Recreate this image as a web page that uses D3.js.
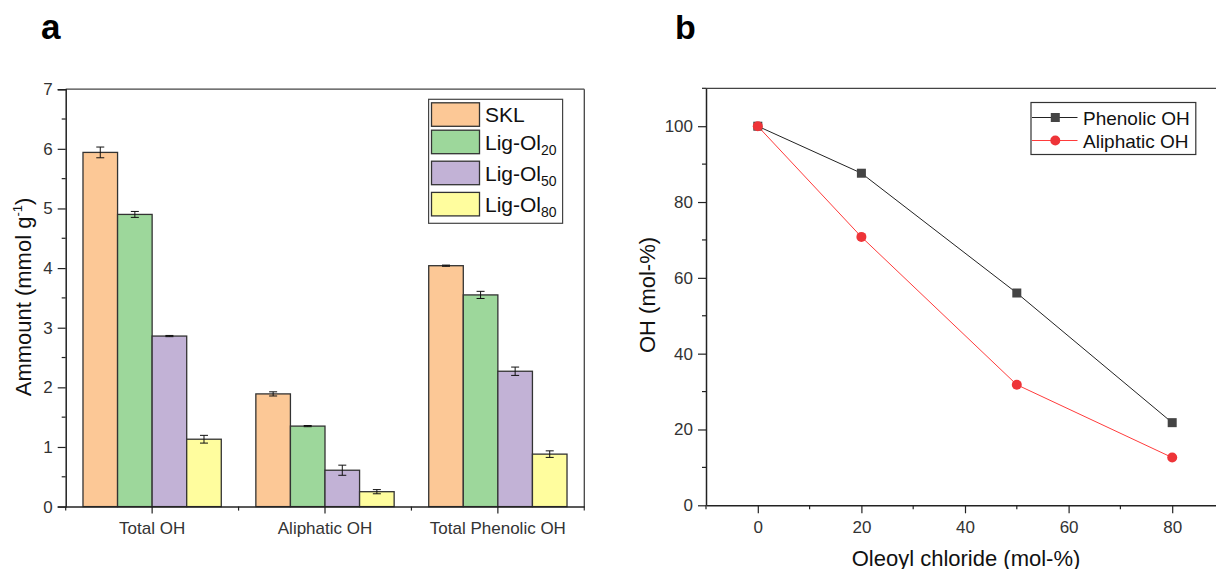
<!DOCTYPE html>
<html><head><meta charset="utf-8">
<script src="https://cdn.jsdelivr.net/npm/d3@7"></script>
<style>
body{margin:0;background:#fff;}
text{font-family:"Liberation Sans",Arial,sans-serif;}
</style></head>
<body><svg id="c" width="1216" height="569"></svg>
<script>
// ---- Panel a data ----
const categories = ["Total OH", "Aliphatic OH", "Total Phenolic OH"];
const seriesNames = ["SKL", "Lig-Ol20", "Lig-Ol50", "Lig-Ol80"];
const seriesBase = ["SKL", "Lig-Ol", "Lig-Ol", "Lig-Ol"];
const seriesSub = ["", "20", "50", "80"];
const skl = [5.94, 1.89, 4.04];
const ligOl20 = [4.90, 1.35, 3.55];
const ligOl50 = [2.86, 0.61, 2.27];
const ligOl80 = [1.13, 0.25, 0.88];
const sklErr = [0.09, 0.035, 0.01];
const ligOl20Err = [0.05, 0.01, 0.06];
const ligOl50Err = [0.01, 0.085, 0.07];
const ligOl80Err = [0.065, 0.035, 0.055];
const barColors = ["#FCC896", "#9DD79B", "#C2B2D6", "#FFFD9E"];
const yTicksA = [0, 1, 2, 3, 4, 5, 6, 7];

// ---- Panel b data ----
const oleoyl = [0, 20, 50, 80];
const phenolicOH = [100, 87.6, 56.0, 21.8];
const aliphaticOH = [100, 70.8, 31.8, 12.6];
const xTicksB = [0, 20, 40, 60, 80];
const yTicksB = [0, 20, 40, 60, 80, 100];

const svg = d3.select("#c");
const axisColor = "#222";
const tickTextColor = "#333";

// ================= Panel a =================
const aL = 65.7, aR = 584.3, aT = 89.2, aB = 506.6;
const xA = d3.scaleBand().domain(categories).range([aL, aR]).paddingInner(0.2).paddingOuter(0.1);
const xInner = d3.scaleBand().domain(seriesNames).range([0, xA.bandwidth()]);
const yA = d3.scaleLinear().domain([0, 7]).range([aB, aT]);

const vals = [skl, ligOl20, ligOl50, ligOl80];
const errs = [sklErr, ligOl20Err, ligOl50Err, ligOl80Err];
const barData = [];
seriesNames.forEach((s, si) => categories.forEach((c, ci) => barData.push({s, si, c, v: vals[si][ci], e: errs[si][ci]})));

const gA = svg.append("g");
gA.selectAll("rect.bar").data(barData).join("rect")
  .attr("x", d => xA(d.c) + xInner(d.s))
  .attr("y", d => yA(d.v))
  .attr("width", xInner.bandwidth())
  .attr("height", d => yA(0) - yA(d.v))
  .attr("fill", d => barColors[d.si])
  .attr("stroke", "#333").attr("stroke-width", 1.3);

// error bars
const eb = gA.selectAll("g.err").data(barData).join("g").attr("class", "err");
eb.append("line")
  .attr("x1", d => xA(d.c) + xInner(d.s) + xInner.bandwidth() / 2)
  .attr("x2", d => xA(d.c) + xInner(d.s) + xInner.bandwidth() / 2)
  .attr("y1", d => yA(d.v + d.e)).attr("y2", d => yA(d.v - d.e))
  .attr("stroke", "#111").attr("stroke-width", 1);
[1, -1].forEach(sg => {
  eb.append("line")
    .attr("x1", d => xA(d.c) + xInner(d.s) + xInner.bandwidth() / 2 - 4)
    .attr("x2", d => xA(d.c) + xInner(d.s) + xInner.bandwidth() / 2 + 4)
    .attr("y1", d => yA(d.v + sg * d.e)).attr("y2", d => yA(d.v + sg * d.e))
    .attr("stroke", "#111").attr("stroke-width", 1);
});

// frame
gA.append("line").attr("x1", aL).attr("x2", aR).attr("y1", aT).attr("y2", aT).attr("stroke", "#444").attr("stroke-width", 1.3);
gA.append("line").attr("x1", aR).attr("x2", aR).attr("y1", aT).attr("y2", aB + 4).attr("stroke", "#444").attr("stroke-width", 1.3);

// y axis a
const yAxisA = gA.append("g").attr("transform", `translate(${aL},0)`)
  .call(d3.axisLeft(yA).tickValues(yTicksA).tickSize(8).tickPadding(5).tickFormat(d3.format("d")));
yAxisA.append("g").selectAll("line").data(d3.range(0.5, 7, 1)).join("line")
  .attr("x1", 0).attr("x2", -4).attr("y1", d => yA(d)).attr("y2", d => yA(d));
// x axis a
const xAxisA = gA.append("g").attr("transform", `translate(0,${aB})`)
  .call(d3.axisBottom(xA).tickSize(7).tickPadding(8).tickSizeOuter(0));
xAxisA.append("g").selectAll("line").data([1, 2]).join("line")
  .attr("x1", d => aL + d * xA.step()).attr("x2", d => aL + d * xA.step())
  .attr("y1", 0).attr("y2", 4);
xAxisA.append("line").attr("x1", aL).attr("x2", aL).attr("y1", 0).attr("y2", 4);

// legend a
const legA = gA.append("g");
legA.append("rect").attr("x", 428.6).attr("y", 99.3).attr("width", 134).attr("height", 124)
  .attr("fill", "#fff").attr("stroke", "#444").attr("stroke-width", 1.2);
const legRowY = [102.8, 130.2, 161.2, 192.4];
seriesNames.forEach((s, i) => {
  legA.append("rect").attr("x", 431.5).attr("y", legRowY[i]).attr("width", 48).attr("height", 23.5)
    .attr("fill", barColors[i]).attr("stroke", "#333").attr("stroke-width", 1.3);
  const t = legA.append("text").attr("x", 485).attr("y", legRowY[i] + 19.5)
    .attr("font-size", 21).attr("fill", "#111").text(seriesBase[i]);
  if (seriesSub[i]) t.append("tspan").attr("font-size", 14).attr("dy", 5).text(seriesSub[i]);
});

// y label a
const ylA = gA.append("text").attr("transform", "translate(31,297) rotate(-90)")
  .attr("text-anchor", "middle").attr("font-size", 22).attr("fill", "#111");
ylA.append("tspan").text("Ammount (mmol g");
ylA.append("tspan").attr("font-size", 13).attr("dy", -9).text("-1");
ylA.append("tspan").attr("dy", 9).text(")");

svg.append("text").attr("x", 41).attr("y", 39.3).attr("font-size", 35).attr("font-weight", "bold").attr("fill", "#000").text("a");

// ================= Panel b =================
const bL = 706, bT = 88.3, bB = 505.3;
const xB = d3.scaleLinear().domain([-10, 90]).range([bL, bL + 100 * 5.18]);
const yB = d3.scaleLinear().domain([0, 110]).range([bB, bT]);
const gB = svg.append("g");

gB.append("line").attr("x1", bL).attr("x2", 1230).attr("y1", bT).attr("y2", bT).attr("stroke", "#444").attr("stroke-width", 1.3);

const yAxisB = gB.append("g").attr("transform", `translate(${bL},0)`)
  .call(d3.axisLeft(yB).tickValues(yTicksB).tickSize(8).tickPadding(5).tickSizeOuter(0));
yAxisB.append("g").selectAll("line").data(d3.range(10, 111, 20)).join("line")
  .attr("x1", 0).attr("x2", -4).attr("y1", d => yB(d)).attr("y2", d => yB(d));
const xAxisB = gB.append("g").attr("transform", `translate(0,${bB})`)
  .call(d3.axisBottom(xB).tickValues(xTicksB).tickSize(8).tickPadding(8).tickSizeOuter(0));
xAxisB.append("g").selectAll("line").data([-10, 10, 30, 50, 70]).join("line")
  .attr("x1", d => xB(d)).attr("x2", d => xB(d)).attr("y1", 0).attr("y2", 4);

const line = d3.line().x(d => xB(d[0])).y(d => yB(d[1]));
const phen = oleoyl.map((x, i) => [x, phenolicOH[i]]);
const alip = oleoyl.map((x, i) => [x, aliphaticOH[i]]);
gB.append("path").attr("d", line(phen)).attr("fill", "none").attr("stroke", "#222").attr("stroke-width", 1);
gB.selectAll("rect.sq").data(phen).join("rect").attr("class", "sq")
  .attr("x", d => xB(d[0]) - 4.5).attr("y", d => yB(d[1]) - 4.5).attr("width", 9).attr("height", 9)
  .attr("fill", "#444");
gB.append("path").attr("d", line(alip)).attr("fill", "none").attr("stroke", "#FF3B3B").attr("stroke-width", 1);
gB.selectAll("circle.ci").data(alip).join("circle").attr("class", "ci")
  .attr("cx", d => xB(d[0])).attr("cy", d => yB(d[1])).attr("r", 5)
  .attr("fill", "#EE3438");

// legend b
const legB = gB.append("g");
legB.append("rect").attr("x", 1031).attr("y", 102.5).attr("width", 164.8).attr("height", 52)
  .attr("fill", "#fff").attr("stroke", "#333").attr("stroke-width", 1.2);
[[117.5, "#222", "Phenolic OH", "sq"], [140.5, "#FF3B3B", "Aliphatic OH", "ci"]].forEach(r => {
  legB.append("line").attr("x1", 1032).attr("x2", 1077.5).attr("y1", r[0]).attr("y2", r[0]).attr("stroke", r[1]).attr("stroke-width", 1);
  if (r[3] === "sq") legB.append("rect").attr("x", 1055.3 - 4.5).attr("y", r[0] - 4.5).attr("width", 9).attr("height", 9).attr("fill", "#444");
  else legB.append("circle").attr("cx", 1055.3).attr("cy", r[0]).attr("r", 5).attr("fill", "#EE3438");
  legB.append("text").attr("x", 1083).attr("y", r[0] + 7).attr("font-size", 19).attr("fill", "#111").text(r[2]);
});

gB.append("text").attr("transform", "translate(655,295) rotate(-90)").attr("text-anchor", "middle")
  .attr("font-size", 22).attr("fill", "#111").text("OH (mol-%)");
gB.append("text").attr("x", 966).attr("y", 565.5).attr("text-anchor", "middle")
  .attr("font-size", 22).attr("fill", "#111").text("Oleoyl chloride (mol-%)");

svg.append("text").attr("x", 675).attr("y", 39.3).attr("font-size", 34).attr("font-weight", "bold").attr("fill", "#000").text("b");

// axis styling
svg.selectAll(".domain").attr("stroke", axisColor).attr("stroke-width", 1.5);
svg.selectAll(".tick line").attr("stroke", axisColor).attr("stroke-width", 1.2);
[yAxisA, xAxisA, yAxisB, xAxisB].forEach(g => {
  g.selectAll("g > g > line").attr("stroke", axisColor).attr("stroke-width", 1.2);
  g.selectAll(":scope > g > line").attr("stroke", axisColor).attr("stroke-width", 1.2);
  g.selectAll(":scope > line").attr("stroke", axisColor).attr("stroke-width", 1.2);
});
svg.selectAll(".tick text").attr("font-size", 17).attr("fill", tickTextColor).attr("font-family", "'Liberation Sans',Arial,sans-serif");
</script></body></html>
